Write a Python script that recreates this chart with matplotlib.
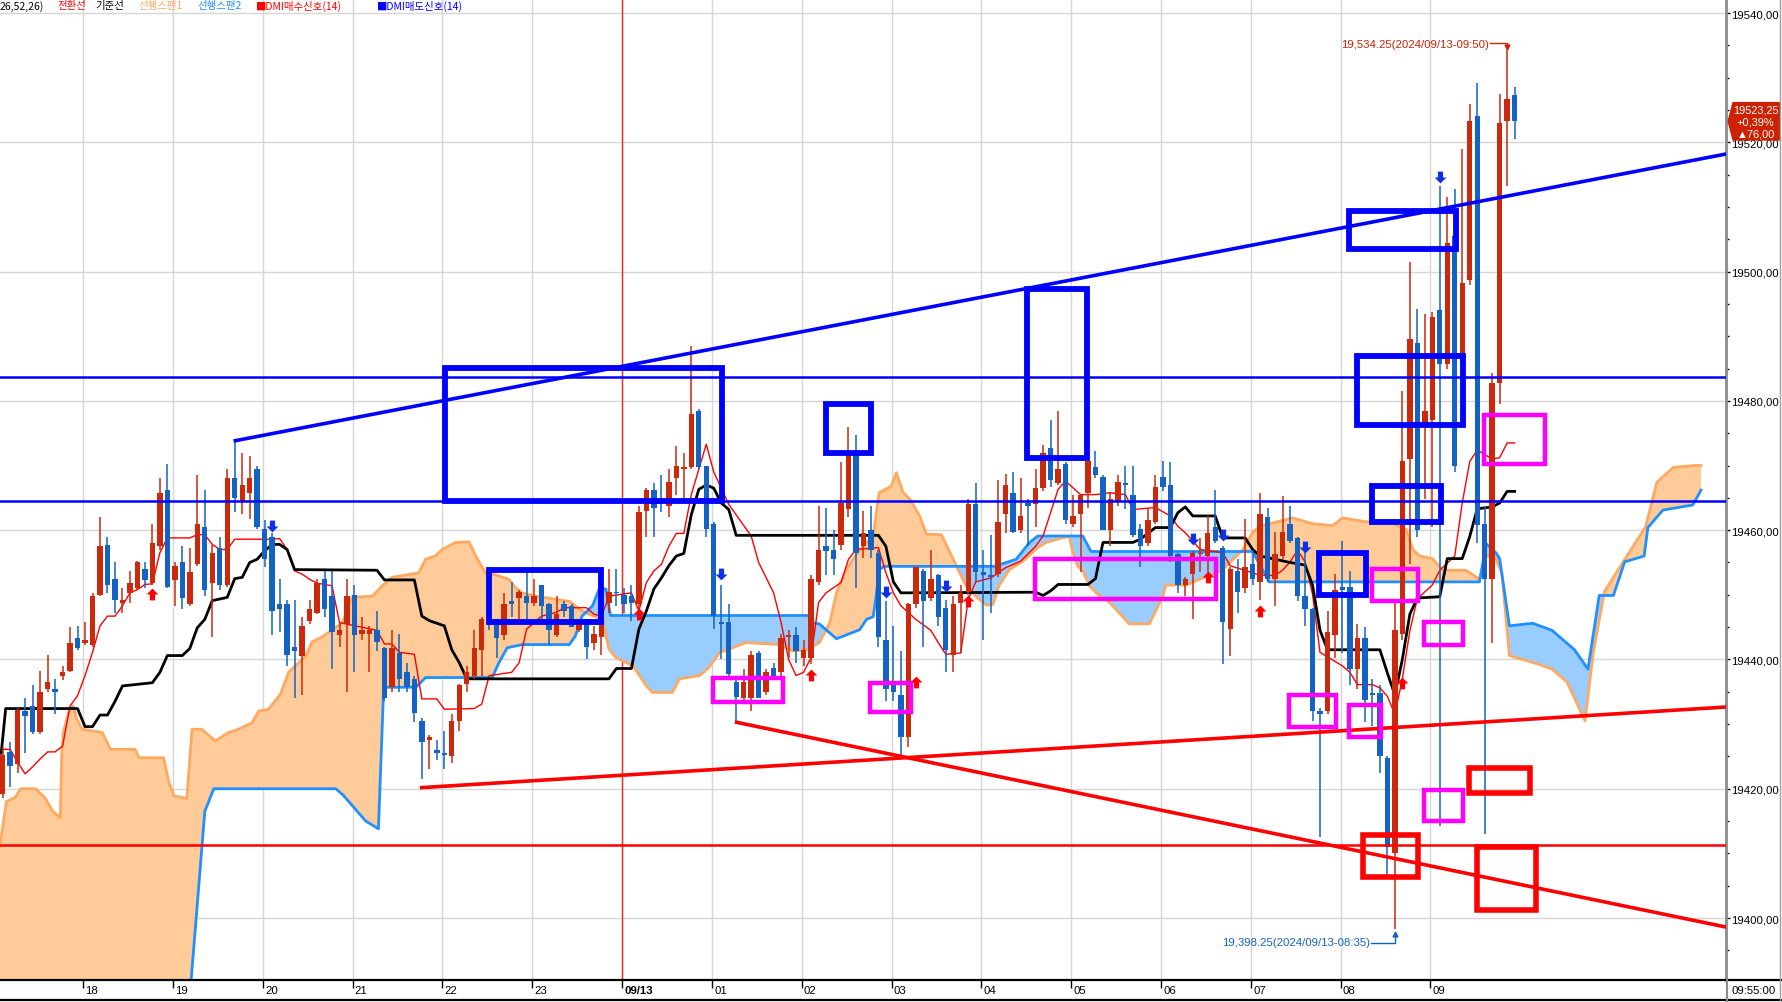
#!/usr/bin/env python3
"""
5-minute futures chart with Ichimoku cloud, signals and hand-drawn marks
"""
from datetime import datetime, timedelta

import numpy as np
import matplotlib.pyplot as plt
from matplotlib import font_manager
from matplotlib.patches import Rectangle, Polygon
from matplotlib.path import Path
from matplotlib.lines import Line2D
from matplotlib.transforms import blended_transform_factory
from matplotlib.ticker import MultipleLocator, FuncFormatter

# bar index 0 = 2024/09/12 18:00, one bar = 5 minutes
FIRST_BAR = -11
SESSION_START = datetime(2024, 9, 12, 18, 0)

opens = [
    19419.25, 19425.75, 19423.75, 19432.0, 19432.75, 19428.75, 19435.5, 19435.5, 19437.5, 19438.25,
    19443.25, 19442.5, 19442.25, 19450.0, 19457.75, 19452.5, 19448.75, 19450.25, 19451.0, 19454.0,
    19451.75, 19457.5, 19466.25, 19452.25, 19455.0, 19448.5, 19454.75, 19460.5, 19451.75, 19457.25,
    19451.5, 19468.0, 19464.5, 19465.75, 19469.5, 19460.25, 19459.0, 19448.5, 19448.5, 19442.0,
    19440.5, 19446.0, 19447.25, 19452.5, 19449.75, 19443.75, 19445.5, 19450.0, 19444.0, 19444.0,
    19444.5, 19441.75, 19435.75, 19441.0, 19438.0, 19437.0, 19430.5, 19427.5, 19426.0, 19425.5,
    19425.0, 19430.5, 19436.25, 19437.5, 19441.5, 19446.25, 19445.5, 19443.75, 19449.0, 19449.5,
    19449.75, 19448.75, 19451.5, 19448.5, 19443.75, 19448.5, 19448.25, 19444.5, 19446.25, 19442.5,
    19443.5, 19448.75, 19450.5, 19450.0, 19449.75, 19448.5, 19463.0, 19466.25, 19464.5, 19463.75,
    19468.0, 19469.5, 19469.75, 19478.5, 19470.0, 19461.0, 19445.75, 19445.75, 19436.5, 19434.0,
    19434.0, 19441.0, 19435.0, 19438.75, 19438.0, 19443.5, 19443.75, 19440.25, 19440.25, 19452.0,
    19457.5, 19457.0, 19457.75, 19463.25, 19471.75, 19457.5, 19460.0, 19456.5, 19443.0, 19436.5,
    19434.5, 19428.0, 19448.5, 19453.75, 19449.5, 19453.0, 19448.0, 19440.75, 19448.75, 19450.5,
    19464.0, 19453.5, 19453.0, 19453.25, 19462.5, 19465.75, 19460.0, 19464.25, 19464.0, 19466.5,
    19472.75, 19467.25, 19470.25, 19461.0, 19462.5, 19465.75, 19469.75, 19468.25, 19460.0, 19464.5,
    19467.25, 19465.5, 19460.25, 19458.0, 19461.25, 19468.25, 19467.0, 19456.25, 19451.5, 19453.25,
    19456.25, 19456.0, 19460.5, 19457.25, 19444.75, 19453.75, 19451.0, 19454.75, 19452.0, 19462.0,
    19452.5, 19456.0, 19461.0, 19458.75, 19449.75, 19447.75, 19432.0, 19432.0, 19443.75, 19451.25,
    19451.25, 19438.5, 19443.25, 19434.75, 19434.75, 19424.75, 19410.0, 19444.0, 19471.0, 19489.0,
    19476.0, 19477.0, 19494.0, 19485.75, 19505.5, 19486.0, 19498.75, 19524.0, 19461.0, 19452.5,
    19482.75, 19523.25, 19527.25,
]
highs = [
    19426.5, 19427.25, 19432.5, 19434.0, 19436.0, 19438.25, 19440.75, 19437.0, 19439.0, 19445.0,
    19445.25, 19445.75, 19450.25, 19462.0, 19459.0, 19455.0, 19451.0, 19453.75, 19455.25, 19455.0,
    19461.0, 19468.0, 19470.25, 19455.0, 19457.5, 19457.25, 19468.5, 19466.25, 19457.75, 19459.0,
    19469.5, 19473.75, 19472.0, 19471.5, 19470.0, 19461.5, 19459.5, 19452.5, 19449.25, 19449.25,
    19446.5, 19449.25, 19452.5, 19453.75, 19453.75, 19445.75, 19452.5, 19451.5, 19446.5, 19445.25,
    19447.5, 19442.0, 19444.5, 19444.0, 19439.5, 19437.5, 19431.0, 19428.25, 19427.5, 19429.0,
    19431.5, 19436.25, 19439.0, 19444.5, 19446.5, 19447.0, 19446.25, 19450.25, 19452.0, 19450.75,
    19453.5, 19452.5, 19451.5, 19448.75, 19449.75, 19449.0, 19448.5, 19446.25, 19446.25, 19445.25,
    19447.25, 19454.0, 19454.0, 19451.0, 19451.5, 19463.75, 19466.5, 19467.25, 19468.5, 19469.5,
    19473.0, 19472.0, 19488.5, 19478.75, 19470.0, 19461.25, 19451.5, 19448.5, 19436.75, 19438.5,
    19441.25, 19441.25, 19438.5, 19439.5, 19444.0, 19444.5, 19445.0, 19443.0, 19453.0, 19463.75,
    19463.5, 19460.0, 19470.5, 19476.0, 19474.75, 19463.0, 19463.75, 19457.0, 19449.0, 19445.25,
    19441.25, 19448.75, 19454.25, 19454.0, 19457.0, 19453.25, 19449.25, 19449.75, 19451.5, 19464.75,
    19467.25, 19457.0, 19459.25, 19467.75, 19468.75, 19469.0, 19468.0, 19464.75, 19469.5, 19473.25,
    19477.0, 19478.5, 19470.5, 19465.5, 19465.5, 19470.75, 19472.25, 19468.5, 19465.75, 19468.5,
    19470.0, 19470.0, 19461.0, 19463.25, 19468.5, 19470.75, 19470.5, 19456.5, 19452.75, 19456.75,
    19458.75, 19462.25, 19466.25, 19457.5, 19454.25, 19455.5, 19461.75, 19457.0, 19465.75, 19463.5,
    19459.75, 19465.25, 19463.75, 19459.0, 19457.0, 19448.0, 19432.5, 19447.5, 19453.25, 19458.25,
    19453.75, 19445.5, 19445.0, 19437.0, 19436.0, 19425.0, 19448.75, 19481.5, 19501.5, 19494.25,
    19493.5, 19493.75, 19513.25, 19511.5, 19512.75, 19519.0, 19526.0, 19529.25, 19463.75, 19484.25,
    19527.5, 19534.25, 19528.5,
]
lows = [
    19418.5, 19420.25, 19422.5, 19425.5, 19428.5, 19428.5, 19435.0, 19431.5, 19436.75, 19438.0,
    19441.5, 19442.25, 19442.0, 19449.75, 19450.25, 19447.25, 19447.25, 19448.75, 19450.75, 19451.0,
    19451.5, 19457.0, 19451.0, 19448.25, 19447.75, 19448.25, 19454.5, 19449.75, 19443.5, 19450.75,
    19451.25, 19462.75, 19462.5, 19461.75, 19460.25, 19454.25, 19443.75, 19444.25, 19439.0, 19434.0,
    19434.5, 19445.5, 19447.0, 19446.5, 19438.5, 19442.0, 19435.0, 19438.0, 19443.0, 19438.0,
    19441.25, 19433.5, 19435.0, 19435.0, 19435.0, 19430.25, 19421.5, 19423.0, 19424.5, 19423.0,
    19424.0, 19429.0, 19435.0, 19437.0, 19437.5, 19444.5, 19440.25, 19443.0, 19446.5, 19446.25,
    19446.25, 19448.25, 19446.25, 19442.25, 19443.5, 19446.5, 19445.0, 19444.25, 19440.0, 19441.5,
    19440.75, 19447.25, 19448.25, 19447.25, 19446.0, 19448.0, 19459.0, 19459.0, 19462.75, 19462.0,
    19465.5, 19465.0, 19469.5, 19469.5, 19459.0, 19444.75, 19440.0, 19437.5, 19430.25, 19433.75,
    19432.0, 19434.0, 19434.5, 19437.25, 19437.5, 19440.25, 19439.5, 19439.0, 19439.25, 19451.5,
    19453.0, 19453.0, 19457.0, 19462.0, 19451.0, 19455.75, 19455.75, 19442.0, 19433.5, 19433.5,
    19425.0, 19426.5, 19448.0, 19442.0, 19449.0, 19445.25, 19438.0, 19438.0, 19441.0, 19450.0,
    19452.0, 19443.0, 19447.25, 19452.75, 19459.5, 19459.5, 19459.5, 19457.5, 19460.5, 19466.0,
    19466.75, 19467.0, 19461.0, 19460.5, 19453.5, 19463.5, 19468.0, 19460.0, 19457.5, 19463.75,
    19463.25, 19459.0, 19454.25, 19457.5, 19461.0, 19466.0, 19455.0, 19450.25, 19449.75, 19446.25,
    19453.5, 19453.25, 19458.0, 19439.25, 19440.5, 19447.25, 19450.25, 19451.5, 19449.25, 19452.0,
    19448.25, 19455.5, 19458.0, 19449.0, 19445.25, 19430.5, 19412.5, 19431.5, 19440.25, 19441.0,
    19436.0, 19435.5, 19430.25, 19429.75, 19422.5, 19406.25, 19398.25, 19443.0, 19454.75, 19459.0,
    19464.75, 19460.5, 19414.25, 19485.0, 19469.0, 19485.0, 19498.0, 19458.0, 19413.0, 19442.5,
    19479.5, 19513.25, 19520.5,
]
closes = [
    19425.25, 19423.5, 19432.25, 19431.25, 19428.75, 19435.0, 19436.5, 19435.0, 19438.0, 19442.5,
    19441.75, 19443.0, 19449.75, 19457.5, 19451.5, 19449.25, 19449.25, 19451.75, 19455.0, 19452.25,
    19458.0, 19465.75, 19451.25, 19454.5, 19449.5, 19453.5, 19461.0, 19450.75, 19456.5, 19451.5,
    19468.0, 19465.0, 19467.0, 19468.0, 19460.5, 19455.5, 19447.5, 19447.75, 19440.75, 19441.25,
    19445.25, 19447.75, 19451.75, 19447.75, 19444.25, 19444.5, 19449.75, 19443.75, 19444.5, 19444.5,
    19442.75, 19434.0, 19441.75, 19437.0, 19435.75, 19431.75, 19427.25, 19428.0, 19425.5, 19425.25,
    19430.5, 19436.0, 19438.0, 19441.75, 19446.25, 19445.75, 19443.25, 19448.5, 19448.5, 19450.5,
    19448.75, 19449.75, 19448.25, 19444.5, 19447.0, 19447.5, 19445.0, 19445.5, 19442.0, 19444.0,
    19446.5, 19450.5, 19450.25, 19448.5, 19448.75, 19462.75, 19466.25, 19463.5, 19464.25, 19467.5,
    19470.0, 19469.75, 19478.0, 19469.75, 19460.25, 19446.75, 19445.5, 19437.75, 19434.25, 19436.5,
    19440.75, 19434.0, 19438.0, 19437.5, 19443.25, 19443.75, 19441.25, 19441.5, 19452.5, 19457.0,
    19456.75, 19455.5, 19464.25, 19471.75, 19456.5, 19459.5, 19457.0, 19443.5, 19435.5, 19435.0,
    19428.0, 19448.5, 19454.25, 19449.0, 19452.5, 19446.5, 19441.5, 19448.5, 19450.25, 19464.0,
    19453.5, 19453.0, 19452.75, 19461.25, 19467.0, 19459.75, 19462.25, 19463.75, 19466.5, 19472.0,
    19467.75, 19469.5, 19461.5, 19462.25, 19465.5, 19470.75, 19468.5, 19460.0, 19464.75, 19467.5,
    19467.0, 19459.25, 19457.5, 19461.5, 19466.75, 19466.75, 19456.0, 19451.5, 19452.5, 19456.5,
    19456.25, 19459.5, 19458.25, 19445.75, 19454.0, 19450.5, 19454.25, 19452.5, 19462.5, 19452.5,
    19456.25, 19459.75, 19458.25, 19449.75, 19447.75, 19432.0, 19431.5, 19444.25, 19450.75, 19450.75,
    19438.5, 19443.25, 19433.75, 19434.5, 19425.0, 19411.0, 19444.5, 19470.75, 19489.5, 19460.0,
    19478.5, 19493.0, 19485.75, 19504.5, 19470.0, 19498.25, 19523.25, 19460.75, 19452.5, 19482.75,
    19523.0, 19526.75, 19523.25,
]
prev_close = 19447.25

# Ichimoku lines, read as (bar, price)
conversion = [
    (-11, 19426.1), (-10, 19426.1), (-9, 19424.1), (-8, 19422.3), (-7, 19423.4), (-6, 19424.6),
    (-5, 19425.7), (-4, 19425.7), (-3, 19426.6), (-2, 19432.8), (-1, 19434.4), (0, 19437.5),
    (1, 19441.1), (2, 19445.2), (3, 19446.7), (4, 19446.7), (5, 19448.3), (6, 19450.3), (7, 19450.8),
    (8, 19451.6), (9, 19451.7), (10, 19456.5), (11, 19458.8), (14, 19458.8), (15, 19459.3),
    (16, 19459.3), (17, 19457.8), (18, 19457.0), (19, 19457.0), (20, 19458.6), (25, 19458.6),
    (26, 19458.7), (27, 19457.0), (28, 19453.7), (29, 19453.2), (30, 19452.4), (31, 19451.8),
    (33, 19451.4), (34, 19445.7), (39, 19444.5), (40, 19442.4), (41, 19442.4), (42, 19441.1),
    (44, 19440.8), (45, 19433.9), (47, 19433.9), (48, 19432.3), (52, 19432.4), (53, 19433.1),
    (54, 19437.5), (57, 19438.0), (58, 19439.5), (59, 19444.7), (60, 19445.7), (61, 19446.7),
    (63, 19447.3), (64, 19448.0), (67, 19448.0), (68, 19447.0), (69, 19446.7), (70, 19449.8),
    (73, 19450.3), (74, 19447.5), (75, 19451.9), (76, 19453.7), (77, 19454.7), (78, 19457.5),
    (79, 19459.5), (80, 19459.5), (81, 19465.5), (82, 19469.4), (83, 19473.3), (84, 19469.0),
    (86, 19464.0), (89, 19459.1), (90, 19455.0), (92, 19450.3), (93, 19445.7), (94, 19440.0),
    (95, 19437.5), (96, 19438.0), (97, 19440.3), (98, 19448.8), (99, 19450.3), (101, 19451.9),
    (102, 19455.5), (103, 19457.0), (106, 19457.3), (107, 19453.4), (108, 19450.3), (109, 19448.3),
    (111, 19446.2), (113, 19444.5), (114, 19442.6), (115, 19440.8), (117, 19441.0), (118, 19449.3),
    (119, 19452.0), (121, 19452.6), (123, 19454.2), (125, 19455.2), (127, 19457.5), (128, 19459.1),
    (129, 19462.7), (130, 19466.3), (131, 19467.6), (133, 19465.5), (135, 19465.5), (137, 19465.8),
    (139, 19465.5), (140, 19463.2), (143, 19463.5), (145, 19462.2), (146, 19460.6), (147, 19459.6),
    (149, 19457.0), (152, 19456.5), (153, 19454.5), (156, 19453.4), (157, 19453.0), (159, 19453.0),
    (160, 19453.8), (161, 19455.1), (162, 19456.9), (163, 19455.1), (164, 19450.1), (165, 19441.1),
    (168, 19439.0), (169, 19438.0), (170, 19436.1), (172, 19436.1), (173, 19435.6), (174, 19434.3),
    (175, 19431.5), (176, 19437.0), (177, 19444.4), (178, 19449.4), (180, 19451.5), (181, 19453.8),
    (183, 19456.0), (184, 19464.2), (185, 19470.6), (186, 19472.4), (188, 19471.0), (189, 19471.2),
    (190, 19473.5), (191, 19473.5),
]
base = [
    (-11.2, 19425.5), (-10.6, 19432.4), (-1, 19432.4), (0, 19429.6), (1, 19429.6), (2, 19431.4),
    (3, 19431.4), (4, 19433.5), (5, 19435.9), (9, 19436.4), (10, 19438.0), (11, 19440.6),
    (13, 19440.6), (14, 19441.7), (15, 19444.9), (16, 19446.2), (17, 19449.1), (19, 19449.6),
    (20, 19452.5), (21, 19452.7), (22, 19455.0), (23, 19455.5), (24, 19456.8), (25, 19457.8),
    (26, 19457.8), (27, 19457.0), (28, 19453.9), (39, 19453.8), (40, 19452.3), (44, 19452.3),
    (45, 19446.7), (46, 19446.0), (48, 19445.2), (49, 19441.5), (50, 19439.5), (51, 19437.0),
    (70, 19437.0), (71, 19438.6), (73, 19438.6), (74, 19444.7), (75, 19447.5), (76, 19450.9),
    (77, 19452.6), (78, 19454.5), (79, 19456.0), (80, 19456.4), (81, 19462.4), (82, 19466.3),
    (83, 19467.0), (84, 19466.5), (85, 19464.2), (86, 19463.2), (87, 19459.2), (106, 19459.2),
    (107, 19457.5), (108, 19452.0), (109, 19450.3), (127, 19450.4), (128, 19449.9), (129, 19450.6),
    (130, 19451.6), (134, 19451.6), (135, 19452.5), (136, 19458.1), (140, 19458.1), (141, 19458.6),
    (142, 19459.5), (143, 19460.4), (145, 19460.4), (146, 19462.7), (147, 19463.6), (148, 19462.2),
    (151, 19462.2), (152, 19458.8), (155, 19458.8), (156, 19457.0), (157, 19456.0), (161, 19455.0),
    (163, 19454.6), (164, 19451.5), (165, 19444.5), (166, 19441.5), (173, 19441.5), (174, 19437.9),
    (175, 19434.5), (176, 19440.0), (177, 19447.0), (178, 19449.5), (181, 19449.7), (182, 19455.6),
    (184, 19455.6), (185, 19459.0), (186, 19463.3), (188, 19463.6), (189, 19464.2), (190, 19466.0),
    (191, 19466.0),
]
span1 = [
    (-11.4, 19411.0), (-10.5, 19418.0), (-9.3, 19418.7), (-8.6, 19420.0), (-6.6, 19420.0),
    (-5.3, 19418.5), (-4.3, 19416.5), (-3.3, 19415.5), (-3.1, 19425.6), (-2.9, 19428.7),
    (-2.2, 19431.8), (-1.6, 19432.8), (-1.1, 19430.8), (-0.4, 19429.2), (2.3, 19428.7),
    (3.4, 19426.1), (6.7, 19426.1), (7.2, 19424.8), (10.5, 19424.8), (11.2, 19421.0),
    (11.9, 19418.9), (13.6, 19418.5), (14.3, 19429.2), (15.6, 19429.2), (17.4, 19427.4),
    (19.2, 19428.7), (20.5, 19429.2), (22.3, 19430.2), (23.2, 19432.0), (24.5, 19432.3),
    (26.1, 19434.6), (27.2, 19438.0), (28.1, 19439.0), (29.5, 19440.5), (30.3, 19442.7),
    (31.7, 19443.5), (34.4, 19445.7), (35.7, 19449.6), (38.4, 19449.8), (39.7, 19451.4),
    (41.0, 19452.7), (44.6, 19453.4), (45.5, 19455.5), (46.8, 19456.0), (47.7, 19457.0),
    (49.5, 19458.1), (51.3, 19458.2), (52.2, 19456.0), (53.5, 19453.4), (54.8, 19453.1),
    (56.6, 19452.4), (57.5, 19451.1), (58.4, 19450.3), (60.2, 19449.8), (62.9, 19449.3),
    (64.7, 19449.0), (66.0, 19447.8), (67.3, 19447.0), (69.1, 19446.2), (70.0, 19441.6),
    (70.9, 19440.3), (73.2, 19439.0), (75.0, 19435.9), (75.8, 19434.9), (78.5, 19434.9),
    (79.4, 19437.0), (82.1, 19437.5), (83.4, 19438.8), (84.8, 19441.1), (86.5, 19441.8),
    (88.3, 19442.6), (92.8, 19442.3), (94.6, 19441.3), (96.4, 19441.5), (98.1, 19442.6),
    (99.5, 19445.7), (100.4, 19450.3), (101.7, 19453.9), (103.5, 19457.0), (105.3, 19459.1),
    (106.1, 19465.8), (107.7, 19466.8), (108.4, 19468.9), (109.3, 19465.8), (110.2, 19464.8),
    (111.5, 19462.2), (112.4, 19459.4), (114.4, 19459.3), (116.4, 19454.5), (117.7, 19451.4),
    (119.0, 19449.8), (120.4, 19448.4), (121.3, 19448.5), (122.1, 19451.4), (123.5, 19453.9),
    (125.3, 19455.2), (127.3, 19457.3), (128.4, 19458.1), (131.5, 19459.1), (132.0, 19456.5),
    (132.6, 19454.5), (133.3, 19453.7), (134.2, 19451.4), (135.1, 19450.3), (136.9, 19448.8),
    (139.5, 19445.5), (142.2, 19445.5), (144.0, 19449.8), (144.4, 19451.5), (147.1, 19451.5),
    (148.9, 19452.4), (150.7, 19453.2), (152.0, 19453.9), (154.7, 19457.0), (155.6, 19458.8),
    (156.0, 19459.7), (157.0, 19460.6), (161.3, 19461.9), (164.0, 19461.0), (166.7, 19460.7),
    (168.0, 19461.9), (171.1, 19461.3), (173.8, 19461.5), (176.5, 19460.1), (177.4, 19457.0),
    (178.3, 19456.0), (180.0, 19455.6), (181.4, 19453.8), (184.5, 19453.8), (186.3, 19452.4),
    (187.2, 19456.0), (188.5, 19455.6), (189.3, 19453.3), (190.3, 19440.6), (194.1, 19439.3),
    (196.0, 19438.5), (198.0, 19436.5), (200.4, 19430.5), (201.5, 19441.0), (203.0, 19450.5),
    (206.0, 19456.0), (208.5, 19460.5), (210.0, 19467.4), (212.2, 19469.7), (215.0, 19470.0),
    (215.9, 19470.0),
]
span2 = [
    (-11.4, 19385.0), (13.8, 19385.0), (15.2, 19405.0), (16.0, 19416.5), (17.2, 19420.0),
    (33.5, 19420.0), (34.5, 19419.0), (37.5, 19415.0), (39.2, 19413.8), (39.9, 19435.7),
    (44.2, 19435.7), (45.5, 19437.2), (54.4, 19437.2), (55.3, 19439.5), (56.4, 19441.8),
    (58.4, 19442.3), (64.7, 19442.3), (65.5, 19443.6), (66.4, 19446.7), (67.8, 19448.3),
    (68.7, 19450.9), (69.6, 19450.9), (70.2, 19446.8), (96.6, 19446.8), (97.2, 19445.7),
    (98.1, 19445.5), (100.4, 19443.2), (103.5, 19444.6), (104.4, 19446.2), (105.3, 19446.6),
    (105.7, 19449.8), (106.1, 19453.9), (106.8, 19454.4), (121.5, 19454.4), (124.4, 19455.5),
    (126.2, 19458.1), (127.3, 19459.1), (133.3, 19459.1), (134.4, 19456.7), (156.0, 19456.7),
    (158.2, 19452.0), (186.3, 19452.0), (187.2, 19457.9), (188.5, 19456.5), (189.0, 19455.6),
    (190.3, 19445.2), (193.4, 19445.6), (196.0, 19444.5), (199.0, 19441.5), (200.8, 19438.5),
    (202.3, 19449.9), (204.2, 19449.9), (205.7, 19455.1), (208.3, 19456.0), (208.8, 19460.4),
    (210.8, 19463.1), (214.8, 19463.9), (215.9, 19466.2),
]

# DMI signals (bar, price where the arrow sits)
buy_signals = [(9, 19450.1), (74, 19447.0), (97, 19437.6), (111, 19436.5), (118, 19449.0),
               (150, 19452.75), (157, 19447.5), (176, 19436.35)]
sell_signals = [(25, 19460.6), (85, 19453.2), (107, 19450.5), (115, 19451.4), (148, 19458.6),
                (152, 19459.2), (163, 19457.4), (181, 19514.6)]

# hand-drawn marks (bar, price)
blue_levels = [19464.46, 19483.77]
blue_trend = [(20.08, 19473.84), (219.24, 19518.19)]
blue_boxes = [(48.1, 19464.46, 85.1, 19485.04), (54.0, 19445.75, 69.0, 19453.8),
              (99.0, 19471.9, 105.0, 19479.5), (125.9, 19471.16, 133.9, 19497.3),
              (168.9, 19503.5, 183.2, 19509.4), (170.0, 19476.3, 184.1, 19486.95),
              (171.9, 19461.26, 181.2, 19466.8), (164.9, 19449.9, 171.1, 19456.5)]
pink_boxes = [(83.9, 19433.37, 93.2, 19437.13), (104.9, 19431.82, 110.4, 19436.35),
              (126.9, 19449.35, 151.1, 19455.5), (160.9, 19429.6, 167.1, 19434.5),
              (168.9, 19427.95, 173.1, 19432.95), (171.9, 19449.1, 178.1, 19454.0),
              (178.9, 19442.3, 184.1, 19445.84), (178.9, 19414.97, 184.1, 19419.77),
              (186.9, 19470.16, 195.0, 19477.88)]
red_boxes = [(170.8, 19406.34, 178.1, 19412.77), (184.9, 19419.3, 193.0, 19423.14),
             (186.0, 19401.24, 193.9, 19410.98)]
red_level = 19411.29
red_trends = [[(44.97, 19420.17), (219.24, 19432.64)], [(87.07, 19430.27), (219.24, 19398.6)]]

hour_labels = ['18', '19', '20', '21', '22', '23', '09/13', '01', '02', '03', '04', '05', '06',
               '07', '08', '09']

# colours
UP = '#CC290C'
DOWN = '#1463C4'
CLOUD_UP = '#FFCC99'
CLOUD_DN = '#99CCFF'
SPAN1_C = '#FFA860'
SPAN2_C = '#1E90FF'

W, H = 1782, 1003
installed = {f.name for f in font_manager.fontManager.ttflist}
if 'Liberation Sans Narrow' in installed:
    FONT, FS = ['Liberation Sans Narrow', 'DejaVu Sans'], 9.5
else:
    FONT, FS = ['Liberation Sans', 'DejaVu Sans'], 8.2

fig = plt.figure(figsize=(W / 100, H / 100), dpi=100)
ax = fig.add_axes([0, 22 / H, 1726 / W, 981 / H])
ax.set_xlim(-11.36, 219.24)
ax.set_ylim(19390.41, 19542.17)

# grid and day separator
hour_pos = np.arange(len(hour_labels)) * 12 - 0.25
ax.set_xticks(hour_pos)
ax.yaxis.tick_right()
ax.yaxis.set_major_locator(MultipleLocator(20))
ax.yaxis.set_minor_locator(MultipleLocator(5))
ax.yaxis.set_major_formatter(FuncFormatter(lambda v, _: f'{v:.2f}'.replace('.', ',')))
ax.grid(True, which='major', color='#D6D6D6', lw=1, zorder=0)
ax.set_axisbelow(True)
ax.axvline(hour_pos[hour_labels.index('09/13')], color='#FF2020', lw=1, zorder=1)

# cloud: colour by which span is on top
s1x, s1y = map(np.array, zip(*span1))
s2x, s2y = map(np.array, zip(*span2))
between = Polygon(np.column_stack([np.r_[s1x, s2x[::-1]], np.r_[s1y, s2y[::-1]]]),
                  closed=True, fc='none', ec='none')
ax.add_patch(between)
lower = ax.fill_between(s1x, s1y, 19000, color=CLOUD_UP, lw=0, zorder=1)
lower.set_clip_path(between)
upper = ax.fill_between(s1x, s1y, 20000, color=CLOUD_DN, lw=0, zorder=1)
upper.set_clip_path(between)
ax.plot(s1x, s1y, color=SPAN1_C, lw=2, zorder=2)
ax.plot(s2x, s2y, color=SPAN2_C, lw=2, zorder=2)

# conversion / base lines
ax.plot(*zip(*conversion), color='#FF0000', lw=1, zorder=3)
ax.plot(*zip(*base), color='black', lw=2, zorder=3)

# candles
o, hi, lo, c = map(np.array, (opens, highs, lows, closes))
bars = np.arange(FIRST_BAR, FIRST_BAR + len(o))
colors = np.where(c >= o, UP, DOWN)
ax.vlines(bars, lo, hi, colors=colors, lw=1.1, zorder=5)
ax.bar(bars, np.maximum(np.abs(c - o), 0.2), bottom=np.minimum(o, c), width=0.72,
       color=colors, lw=0, zorder=6)

# drawn marks
for lv in blue_levels:
    ax.axhline(lv, color='#0000FF', lw=1.8, zorder=7)
ax.plot(*zip(*blue_trend), color='#0000FF', lw=2.6, zorder=7)
ax.axhline(red_level, color='#FF0000', lw=1.8, zorder=7)
for tr in red_trends:
    ax.plot(*zip(*tr), color='#FF0000', lw=2.6, zorder=7)
for boxes, col, lw in ((blue_boxes, '#0000FF', 4.2), (pink_boxes, '#FF00FF', 3.2),
                       (red_boxes, '#FF0000', 4.0)):
    for x0, y0, x1, y1 in boxes:
        ax.add_patch(Rectangle((x0, y0), x1 - x0, y1 - y0, fill=False, ec=col, lw=lw,
                               joinstyle='miter', zorder=8))

# signal arrows
up_arrow = Path([(-0.22, -0.5), (0.22, -0.5), (0.22, 0.0), (0.5, 0.0), (0.0, 0.5),
                 (-0.5, 0.0), (-0.22, 0.0), (-0.22, -0.5)])
down_arrow = Path([(x, -y) for x, y in up_arrow.vertices])
ax.plot(*zip(*buy_signals), ls='none', marker=up_arrow, ms=8.5, color='#FF0000', mew=0, zorder=9)
ax.plot(*zip(*sell_signals), ls='none', marker=down_arrow, ms=8.5, color='#1030E8', mew=0,
        zorder=9)

# high / low labels
hi_bar = bars[np.argmax(hi)]
lo_bar = bars[np.argmin(lo)]
hi_time = SESSION_START + timedelta(minutes=5 * int(hi_bar))
lo_time = SESSION_START + timedelta(minutes=5 * int(lo_bar))
hmax, lmin = hi.max(), lo.min()
ax.text(hi_bar - 2.4, hmax + 1.0, f'{hmax:,.2f}({hi_time:%Y/%m/%d-%H:%M})', ha='right',
        va='center', fontsize=FS, color='#CC2200', family=FONT, zorder=10)
ax.plot([hi_bar - 2.3, hi_bar, hi_bar], [hmax + 1.1, hmax + 1.1, hmax + 0.35], color='#CC2200',
        lw=1, zorder=10)
ax.plot([hi_bar], [hmax + 0.45], marker='v', ms=3.5, color='#CC2200', zorder=10)
ax.text(lo_bar - 3.3, lmin - 1.95, f'{lmin:,.2f}({lo_time:%Y/%m/%d-%H:%M})', ha='right',
        va='center', fontsize=FS, color='#1463C4', family=FONT, zorder=10)
ax.plot([lo_bar - 3.2, lo_bar, lo_bar], [lmin - 2.1, lmin - 2.1, lmin - 0.55], color='#1463C4',
        lw=1, zorder=10)
ax.plot([lo_bar], [lmin - 0.65], marker='^', ms=3.5, color='#1463C4', zorder=10)

# axes styling
for side in ('left', 'top', 'bottom'):
    ax.spines[side].set_visible(False)
ax.spines['right'].set_color('#8C8C8C')
ax.spines['right'].set_linewidth(2)
ax.tick_params(axis='x', length=6, width=1, color='black', labelbottom=False, direction='out')
ax.tick_params(axis='y', which='major', length=2.9, width=1, pad=1, labelsize=FS,
               colors='black')
ax.tick_params(axis='y', which='minor', length=2.2, width=1, color='black')
for t in ax.get_yticklabels():
    t.set_family(FONT)

trans = blended_transform_factory(ax.transData, ax.transAxes)
for p, lab in zip(hour_pos, hour_labels):
    ax.text(p + 0.3, -0.0105, lab, transform=trans, ha='left', va='center', fontsize=FS,
            family=FONT, fontweight='bold' if '/' in lab else 'normal', clip_on=False)

# current price tag
last = c[-1]
chg = last - prev_close
tag_tr = blended_transform_factory(ax.transAxes, ax.transData)
tag = Polygon([(1.0008, last), (1.0038, last + 3.0), (1.0315, last + 3.0), (1.0315, last - 3.0),
               (1.0038, last - 3.0)], closed=True, fc='#CC2200', ec='none', transform=tag_tr,
              clip_on=False, zorder=20)
ax.add_patch(tag)
for dy, s in ((1.85, f'{last:.2f}'.replace('.', ',')),
              (0.0, f'+{chg / prev_close * 100:.2f}%'.replace('.', ',')),
              (-1.85, f'▲{chg:.2f}'.replace('.', ','))):
    ax.text(1.0172, last + dy, s, transform=tag_tr, ha='center', va='center', fontsize=FS - 0.3,
            color='white', family=FONT, clip_on=False, zorder=21)

# frame lines around the time strip
for y in (981, 1001):
    fig.add_artist(Line2D([0, 1], [1 - y / H] * 2, transform=fig.transFigure, color='black',
                          lw=1.6))
fig.add_artist(Line2D([1726.5 / W] * 2, [0, 22 / H], transform=fig.transFigure,
                      color='#8C8C8C', lw=1.5))
fig.add_artist(Line2D([1780 / W] * 2, [0, 1], transform=fig.transFigure, color='#A0A0A0',
                      lw=1))
last_time = SESSION_START + timedelta(minutes=5 * int(bars[-1]))
fig.text(1754 / W, 1 - 991 / H, f'{last_time:%H:%M:%S}', ha='center', va='center', fontsize=FS,
         family=FONT)

# indicator legend along the top edge
legend_parts = [('26,52,26)', 'black'), ('전환선', '#FF0000'), ('기준선', 'black'),
                ('선행스팬1', SPAN1_C), ('선행스팬2', SPAN2_C), ('■DMI매수신호(14)', '#FF0000'),
                ('■DMI매도신호(14)', '#0000FF')]
legend_x = [0, 57, 95, 138, 197, 256, 377]
for (s, col), x in zip(legend_parts, legend_x):
    fig.text(x / W, 1 - 1 / H, s, ha='left', va='top', fontsize=7.5, color=col,
             family=['Noto Sans CJK KR', 'DejaVu Sans'])

fig.savefig('out.png', dpi=100, facecolor='white')
